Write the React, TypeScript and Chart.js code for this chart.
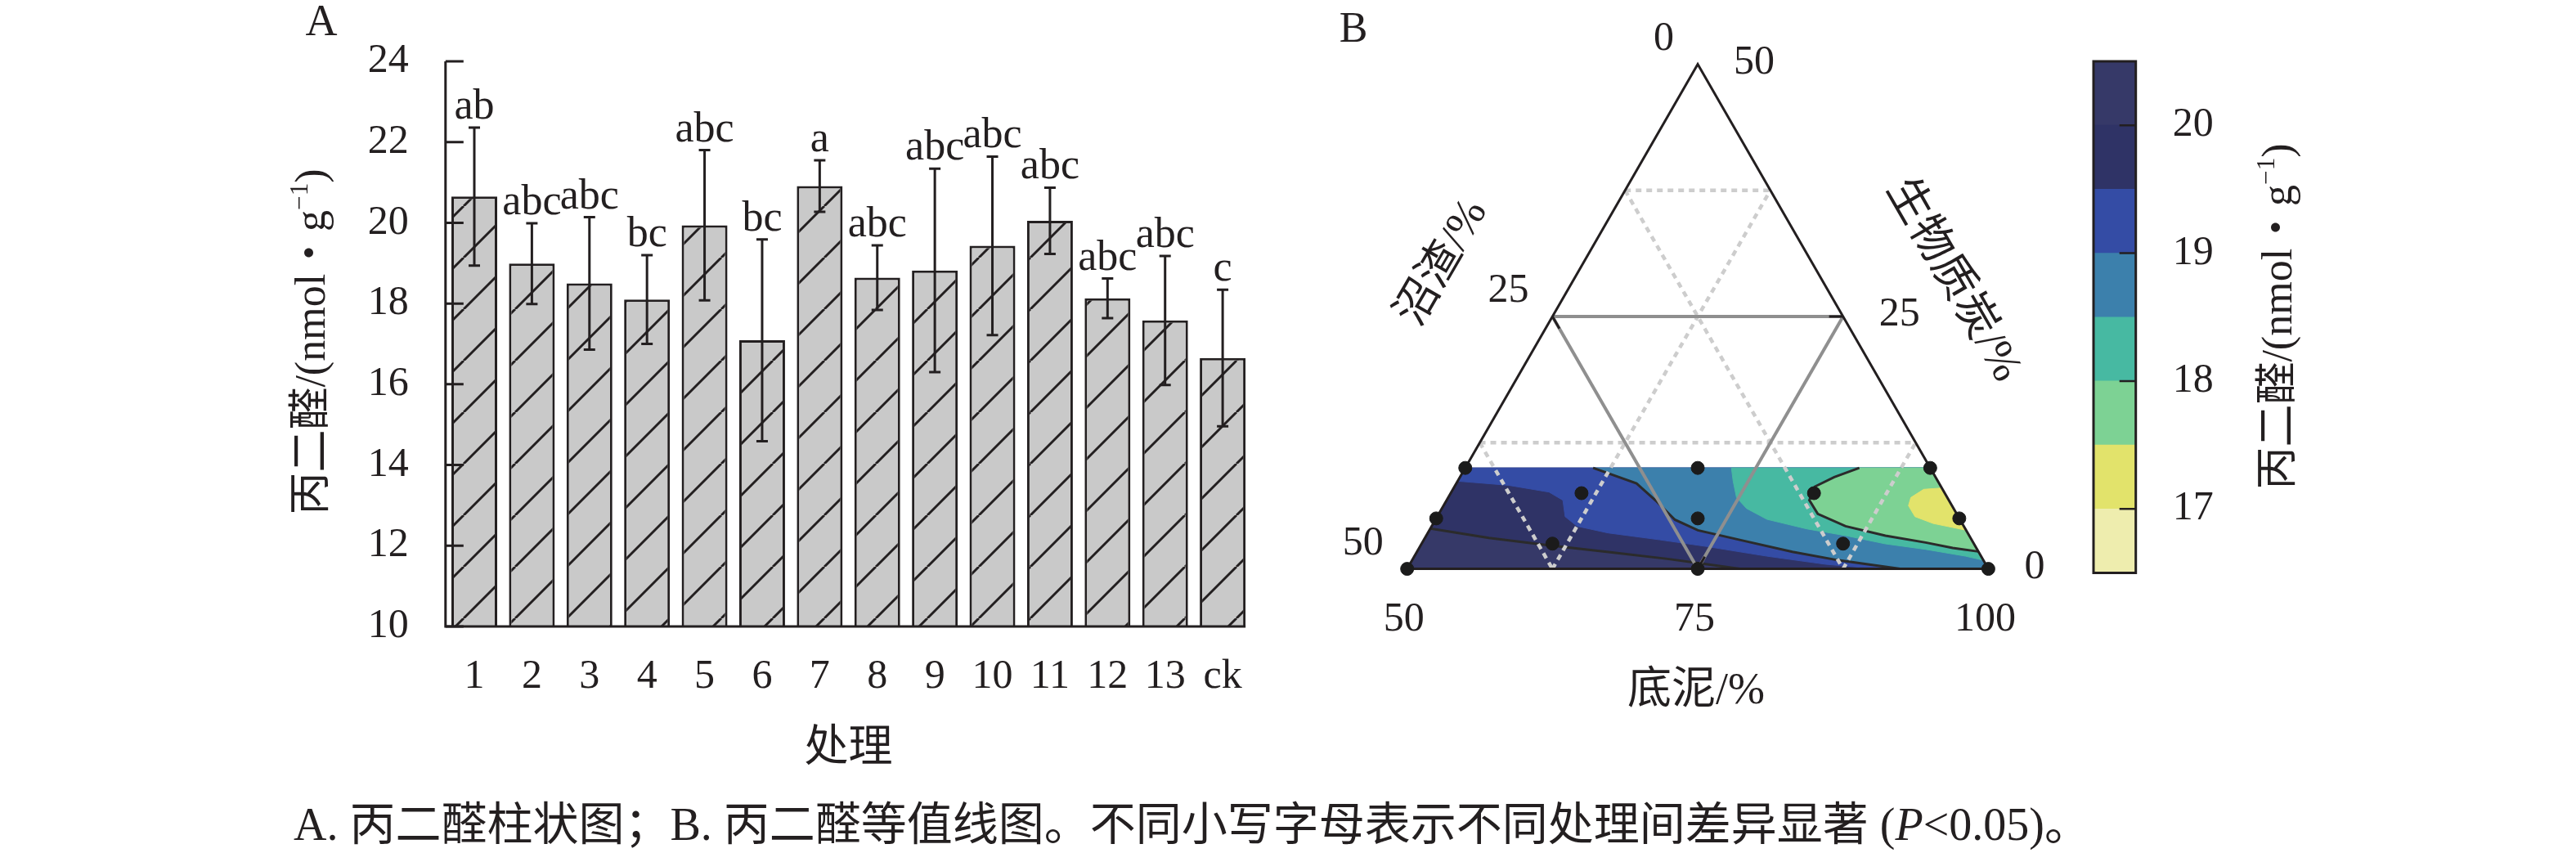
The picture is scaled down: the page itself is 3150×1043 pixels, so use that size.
import React, { useEffect, useRef } from 'react';
import { Chart, registerables } from 'chart.js';

Chart.register(...registerables);

const FONT = "'Liberation Serif', 'Noto Sans CJK SC', serif";
const INK = '#231f20';

// ---------------- Panel A data ----------------
const treatments = ['1', '2', '3', '4', '5', '6', '7', '8', '9', '10', '11', '12', '13', 'ck'];
const mdaMean = [20.65, 18.99, 18.5, 18.1, 19.94, 17.09, 20.91, 18.64, 18.82, 19.43, 20.05, 18.13, 17.58, 16.65];
const mdaErr = [1.71, 1.0, 1.64, 1.1, 1.86, 2.5, 0.64, 0.8, 2.52, 2.21, 0.82, 0.49, 1.6, 1.69];
const sigLetters = ['ab', 'abc', 'abc', 'bc', 'abc', 'bc', 'a', 'abc', 'abc', 'abc', 'abc', 'abc', 'abc', 'c'];
const yTicksA = [10, 12, 14, 16, 18, 20, 22, 24];
const xTitleA = '处理';
const unitTitle = ['丙二醛/(nmol', '・', 'g', '−1', ')'];

// ---------------- Panel B data ----------------
// design points: [底泥, 沼渣, 生物质炭] (%)
const designPoints = [
  [50, 40, 10], [50, 45, 5], [50, 50, 0],
  [61.25, 31.25, 7.5], [61.25, 36.25, 2.5],
  [70, 20, 10], [72.5, 22.5, 5], [75, 25, 0],
  [81.25, 11.25, 7.5], [86.25, 11.25, 2.5],
  [90, 0, 10], [95, 0, 5], [100, 0, 0],
];
// contour geometry as [底泥, 生物质炭] pairs (沼渣 = 100 - both)
const bandCorners = [[50, 0], [100, 0], [90, 10], [50, 10]];
const contour20 = [[50, 4.0], [55.5, 3.07], [61.0, 2.34], [66.5, 1.67], [71.9, 0.99], [75.6, 0.45], [78.6, 0]];
const edge195 = [[50, 8.69], [54.6, 8.28], [58.4, 7.61], [60.0, 6.8], [61.0, 5.18], [62.5, 4.23], [65.5, 3.56], [70.3, 2.88], [74.7, 2.21], [80.3, 1.26], [85.8, 0.45], [90.5, 0]];
const contour19 = [[61.0, 10], [65.5, 8.47], [68.0, 6.77], [70.6, 4.87], [73.1, 3.82], [77.7, 2.75], [82.3, 1.69], [86.7, 0.85], [92.4, 0]];
const edge185 = [[72.9, 10], [73.7, 8.69], [74.8, 7.07], [76.2, 5.99], [78.5, 4.91], [82.4, 3.96], [86.1, 3.29], [89.9, 2.48], [93.6, 1.94], [97.4, 1.26], [99.14, 0.86]];
const contour18 = [[83.9, 10], [82.2, 9.09], [81.0, 8.15], [81.2, 6.8], [82.6, 5.45], [85.6, 4.23], [89.5, 3.29], [93.3, 2.61], [95.9, 2.07], [98.28, 1.72]];
const edge175 = [[91.99, 8.01], [90.5, 7.88], [89.8, 7.07], [90.0, 6.26], [91.1, 5.18], [93.0, 4.5], [94.9, 4.1], [96.17, 3.83]];

const ticksSludge = [50, 75, 100];    // 底泥, bottom
const ticksDigestate = [0, 25, 50];   // 沼渣, left
const ticksBiochar = [50, 25, 0];     // 生物质炭, right
const gridDotSludge = [62.5, 87.5];
const gridSolidSludge = [75];
const gridDotDigestate = [12.5, 37.5];
const gridSolidDigestate = [25];
const gridDotBiochar = [12.5, 37.5];
const gridSolidBiochar = [25];

// colour scale
const levelBounds = [16.5, 17, 17.5, 18, 18.5, 19, 19.5, 20, 20.5];
const levelColors = ['#eeedae', '#e2e36b', '#7dd294', '#47b9a2', '#3c80ac', '#344ca5', '#2f3366', '#363968'];
const cbTicks = [17, 18, 19, 20];

const captionPre = 'A. 丙二醛柱状图；B. 丙二醛等值线图。不同小写字母表示不同处理间差异显著 (';
const captionP = 'P';
const captionPost = '<0.05)。';

const SQ3 = Math.sqrt(3) / 2;
const tern = (d: number, t: number) => ({ x: d - 50 + t / 2, y: t * SQ3 });

function drawUnitTitle(ctx: CanvasRenderingContext2D, cx: number, cy: number, angle: number, size: number) {
  const parts = [
    { text: unitTitle[0], scale: 1, rise: 0 },
    { text: unitTitle[1], scale: 1, rise: 0 },
    { text: unitTitle[2], scale: 1, rise: 0 },
    { text: unitTitle[3], scale: 0.6, rise: 0.4 },
    { text: unitTitle[4], scale: 1, rise: 0 },
  ];
  ctx.save();
  ctx.translate(cx, cy);
  ctx.rotate(angle);
  ctx.fillStyle = INK;
  ctx.textAlign = 'left';
  ctx.textBaseline = 'alphabetic';
  const widths = parts.map((p) => {
    ctx.font = `${size * p.scale}px ${FONT}`;
    return ctx.measureText(p.text).width;
  });
  const total = widths.reduce((a, b) => a + b, 0);
  let x = -total / 2;
  parts.forEach((p, i) => {
    ctx.font = `${size * p.scale}px ${FONT}`;
    ctx.fillText(p.text, x, size * 0.36 - p.rise * size);
    x += widths[i];
  });
  ctx.restore();
}

const panelAPlugin = {
  id: 'panelA',
  afterDatasetsDraw(chart: any) {
    const { ctx, chartArea } = chart;
    const y = chart.scales.y;
    const meta = chart.getDatasetMeta(0);
    ctx.save();
    ctx.strokeStyle = INK;
    ctx.fillStyle = INK;
    ctx.lineWidth = 3;
    ctx.lineCap = 'butt';
    meta.data.forEach((bar: any, i: number) => {
      const cx = bar.x;
      const yT = y.getPixelForValue(mdaMean[i] + mdaErr[i]);
      const yB = y.getPixelForValue(mdaMean[i] - mdaErr[i]);
      ctx.beginPath();
      ctx.moveTo(cx, yT); ctx.lineTo(cx, yB);
      ctx.moveTo(cx - 7, yT); ctx.lineTo(cx + 7, yT);
      ctx.moveTo(cx - 7, yB); ctx.lineTo(cx + 7, yB);
      ctx.stroke();
      ctx.font = `52px ${FONT}`;
      ctx.textAlign = 'center';
      ctx.textBaseline = 'alphabetic';
      ctx.fillText(sigLetters[i], cx, yT - 11);
    });
    const last = meta.data[meta.data.length - 1];
    ctx.beginPath();
    ctx.moveTo(chartArea.left, chartArea.top);
    ctx.lineTo(chartArea.left, chartArea.bottom);
    ctx.lineTo(last.x + last.width / 2, chartArea.bottom);
    ctx.stroke();
    ctx.beginPath();
    yTicksA.forEach((v) => {
      const py = y.getPixelForValue(v);
      ctx.moveTo(chartArea.left, py);
      ctx.lineTo(chartArea.left + 22, py);
    });
    ctx.stroke();
    ctx.restore();
  },
  afterDraw(chart: any) {
    const { ctx } = chart;
    drawUnitTitle(ctx, 378, 418, -Math.PI / 2, 52);
    ctx.save();
    ctx.fillStyle = INK;
    ctx.font = `54px ${FONT}`;
    ctx.textAlign = 'center';
    ctx.textBaseline = 'middle';
    ctx.fillText('A', 393, 29);
    ctx.restore();
  },
};

const panelBPlugin = {
  id: 'panelB',
  afterDraw(chart: any) {
    const { ctx } = chart;
    const sx = chart.scales.x;
    const sy = chart.scales.y;
    const px = (d: number, t: number) => {
      const p = tern(d, t);
      return { x: sx.getPixelForValue(p.x), y: sy.getPixelForValue(p.y) };
    };
    ctx.save();
    ctx.fillStyle = INK;
    ctx.font = `50px ${FONT}`;
    ctx.textBaseline = 'middle';
    ctx.textAlign = 'right';
    ticksDigestate.forEach((v) => {
      const p = px(50, 50 - v);
      ctx.fillText(String(v), p.x - 29, p.y - 31);
    });
    ctx.textAlign = 'left';
    ticksBiochar.forEach((v) => {
      const p = px(100 - v, v);
      ctx.fillText(String(v), p.x + 44, p.y - 2);
    });
    ctx.textAlign = 'center';
    ticksSludge.forEach((v) => {
      const p = px(v, 0);
      ctx.fillText(String(v), p.x - 4, p.y + 62);
    });
    ctx.font = `54px ${FONT}`;
    const pb = px(75, 0);
    ctx.fillText('底泥/%', pb.x - 2, pb.y + 150);
    const pl = px(50, 25);
    ctx.save();
    ctx.translate(pl.x - 134, pl.y - 65);
    ctx.rotate(-Math.PI / 3);
    ctx.fillText('沼渣/%', 0, 0);
    ctx.restore();
    const pr = px(75, 25);
    ctx.save();
    ctx.translate(pr.x + 134, pr.y - 44);
    ctx.rotate(Math.PI / 3);
    ctx.fillText('生物质炭/%', 0, 0);
    ctx.restore();
    ctx.font = `52px ${FONT}`;
    ctx.fillText('B', 95, 37);
    ctx.restore();
  },
};

const colorbarPlugin = {
  id: 'colorbar',
  afterDraw(chart: any) {
    const { ctx, chartArea } = chart;
    const y = chart.scales.y;
    ctx.save();
    ctx.strokeStyle = INK;
    ctx.lineWidth = 3;
    ctx.strokeRect(chartArea.left, chartArea.top, chartArea.right - chartArea.left, chartArea.bottom - chartArea.top);
    ctx.lineWidth = 2.5;
    ctx.beginPath();
    cbTicks.forEach((v) => {
      const py = y.getPixelForValue(v);
      ctx.moveTo(chartArea.right - 20, py);
      ctx.lineTo(chartArea.right, py);
    });
    ctx.stroke();
    ctx.restore();
    drawUnitTitle(ctx, 2783 - 2540, 387, -Math.PI / 2, 52);
  },
};

function polyDs(pairs: number[][], color: string) {
  const data = pairs.map(([d, t]) => tern(d, t));
  data.push(data[0]);
  return {
    data, showLine: true, fill: 'shape', backgroundColor: color, borderColor: color,
    borderWidth: 1, pointRadius: 0, tension: 0, clip: false,
  };
}

function lineDs(pairs: number[][], color: string, width: number, dash: number[] = []) {
  return {
    data: pairs.map(([d, t]) => tern(d, t)), showLine: true, fill: false,
    borderColor: color, backgroundColor: color, borderWidth: width, borderDash: dash,
    borderCapStyle: 'butt', pointRadius: 0, tension: 0, clip: false,
  };
}

export default function App() {
  const aRef = useRef<HTMLCanvasElement>(null);
  const bRef = useRef<HTMLCanvasElement>(null);
  const cRef = useRef<HTMLCanvasElement>(null);

  useEffect(() => {
    Chart.defaults.font.family = FONT;
    Chart.defaults.color = INK;
    const charts: Chart[] = [];

    // hatch pattern
    const P = 63;
    const tile = document.createElement('canvas');
    tile.width = P; tile.height = P;
    const tctx = tile.getContext('2d')!;
    tctx.fillStyle = '#c9c9c9';
    tctx.fillRect(0, 0, P, P);
    tctx.strokeStyle = INK;
    tctx.lineWidth = 3;
    tctx.beginPath();
    for (const k of [-1, 0, 1]) { tctx.moveTo(k * P, P); tctx.lineTo(k * P + P, 0); }
    tctx.stroke();
    const hatch = aRef.current!.getContext('2d')!.createPattern(tile, 'repeat');

    charts.push(new Chart(aRef.current!, {
      type: 'bar',
      data: {
        labels: treatments,
        datasets: [{
          data: mdaMean, base: 10, backgroundColor: hatch as any, borderColor: INK, borderWidth: 3,
          barPercentage: 0.7955, categoryPercentage: 1,
        } as any],
      },
      options: {
        responsive: false, animation: false, devicePixelRatio: 1, events: [],
        layout: { padding: { left: 0, right: 29.7, top: 72.7, bottom: 0 } },
        plugins: { legend: { display: false }, tooltip: { enabled: false } },
        scales: {
          x: {
            grid: { display: false, drawTicks: false }, border: { display: false },
            ticks: { font: { size: 50 }, color: INK, padding: 32, maxRotation: 0, autoSkip: false },
            title: { display: true, text: xTitleA, font: { size: 54 }, color: INK, padding: { top: 0, bottom: 10.6 } },
            afterFit: (s: any) => { s.height = 194; },
          },
          y: {
            min: 10, max: 24,
            ticks: { stepSize: 2, font: { size: 50 }, color: INK, padding: 45 },
            grid: { display: false, drawTicks: false }, border: { display: false },
            afterFit: (s: any) => { s.width = 544.8; },
          },
        },
      } as any,
      plugins: [panelAPlugin],
    }));

    // ternary datasets in painting order
    const dsB: any[] = [];
    dsB.push(polyDs(bandCorners, levelColors[6]));
    dsB.push(polyDs([[50, 0], ...contour20], levelColors[7]));
    dsB.push(polyDs([...edge195, [100, 0], [90, 10], [50, 10]], levelColors[5]));
    dsB.push(polyDs([...contour19, [100, 0], [90, 10]], levelColors[4]));
    dsB.push(polyDs([...edge185, [90, 10]], levelColors[3]));
    dsB.push(polyDs([...contour18, [90, 10]], levelColors[2]));
    dsB.push(polyDs(edge175, levelColors[1]));
    [contour20, contour19, contour18].forEach((c) => dsB.push(lineDs(c, '#2b2b2b', 3)));
    const dot = [7, 6];
    gridDotBiochar.forEach((v) => dsB.push(lineDs([[50, v], [100 - v, v]], '#cdcdcd', 4.5, dot)));
    gridDotDigestate.forEach((v) => dsB.push(lineDs([[50, 50 - v], [100 - v, 0]], '#cdcdcd', 4.5, dot)));
    gridDotSludge.forEach((v) => dsB.push(lineDs([[v, 0], [v, 100 - v]], '#cdcdcd', 4.5, dot)));
    gridSolidBiochar.forEach((v) => dsB.push(lineDs([[50, v], [100 - v, v]], '#8f8f8f', 4)));
    gridSolidDigestate.forEach((v) => dsB.push(lineDs([[50, 50 - v], [100 - v, 0]], '#8f8f8f', 4)));
    gridSolidSludge.forEach((v) => dsB.push(lineDs([[v, 0], [v, 100 - v]], '#8f8f8f', 4)));
    dsB.push(lineDs([[50, 0], [100, 0], [50, 50], [50, 0]], INK, 3));
    // axis ticks along the interior grid lines
    const TL = 1.2;
    ticksDigestate.filter((v) => v > 0 && v < 50).forEach((v) => dsB.push(lineDs([[50, 50 - v], [50 + TL, 50 - v - TL]], INK, 3)));
    ticksBiochar.filter((v) => v > 0 && v < 50).forEach((v) => dsB.push(lineDs([[100 - v, v], [100 - v - TL, v]], INK, 3)));
    ticksSludge.filter((v) => v > 50 && v < 100).forEach((v) => dsB.push(lineDs([[v, 0], [v, TL]], INK, 3)));
    dsB.push({
      data: designPoints.map(([d, , t]) => tern(d, t)), showLine: false, fill: false,
      pointRadius: 8, pointBackgroundColor: '#1b1b1b', pointBorderColor: '#1b1b1b', pointBorderWidth: 1, clip: false,
    });
    dsB.forEach((d, i) => { d.order = dsB.length - i; });

    charts.push(new Chart(bRef.current!, {
      type: 'line',
      data: { datasets: dsB },
      options: {
        responsive: false, animation: false, devicePixelRatio: 1, events: [],
        layout: { padding: { left: 160.7, right: 128.6, top: 78.4, bottom: 204.4 } },
        plugins: { legend: { display: false }, tooltip: { enabled: false } },
        scales: {
          x: { type: 'linear', min: 0, max: 50, display: false },
          y: { type: 'linear', min: 0, max: 50 * SQ3, display: false },
        },
      } as any,
      plugins: [panelBPlugin],
    }));

    charts.push(new Chart(cRef.current!, {
      type: 'bar',
      data: {
        labels: [''],
        datasets: levelColors.map((c, i) => ({
          data: [[levelBounds[i], levelBounds[i + 1]]], backgroundColor: c, borderWidth: 0,
          grouped: false, barPercentage: 1, categoryPercentage: 1,
        })) as any,
      },
      options: {
        responsive: false, animation: false, devicePixelRatio: 1, events: [],
        layout: { padding: { left: 20, right: 0, top: 72.5, bottom: 99.5 } },
        plugins: { legend: { display: false }, tooltip: { enabled: false } },
        scales: {
          x: { display: false },
          y: {
            position: 'right', min: 16.5, max: 20.5,
            afterBuildTicks: (s: any) => { s.ticks = cbTicks.map((v) => ({ value: v })); },
            ticks: { font: { size: 50 }, color: INK, padding: 45 },
            grid: { display: false, drawTicks: false }, border: { display: false },
            afterFit: (s: any) => { s.width = 328.3; },
          },
        },
      } as any,
      plugins: [colorbarPlugin],
    }));

    return () => { charts.forEach((c) => c.destroy()); };
  }, []);

  return (
    <div style={{ position: 'absolute', left: 0, top: 0, width: 3150, height: 1043, background: '#fff', overflow: 'hidden' }}>
      <canvas ref={aRef} width={1560} height={960} style={{ position: 'absolute', left: 0, top: 0, width: 1560, height: 960 }} />
      <canvas ref={bRef} width={1000} height={900} style={{ position: 'absolute', left: 1560, top: 0, width: 1000, height: 900 }} />
      <canvas ref={cRef} width={400} height={800} style={{ position: 'absolute', left: 2540, top: 0, width: 400, height: 800 }} />
      <div style={{ position: 'absolute', left: 359, top: 980, fontFamily: FONT, fontSize: 56, lineHeight: '56px', whiteSpace: 'nowrap', color: INK }}>
        {captionPre}<i>{captionP}</i>{captionPost}
      </div>
    </div>
  );
}
